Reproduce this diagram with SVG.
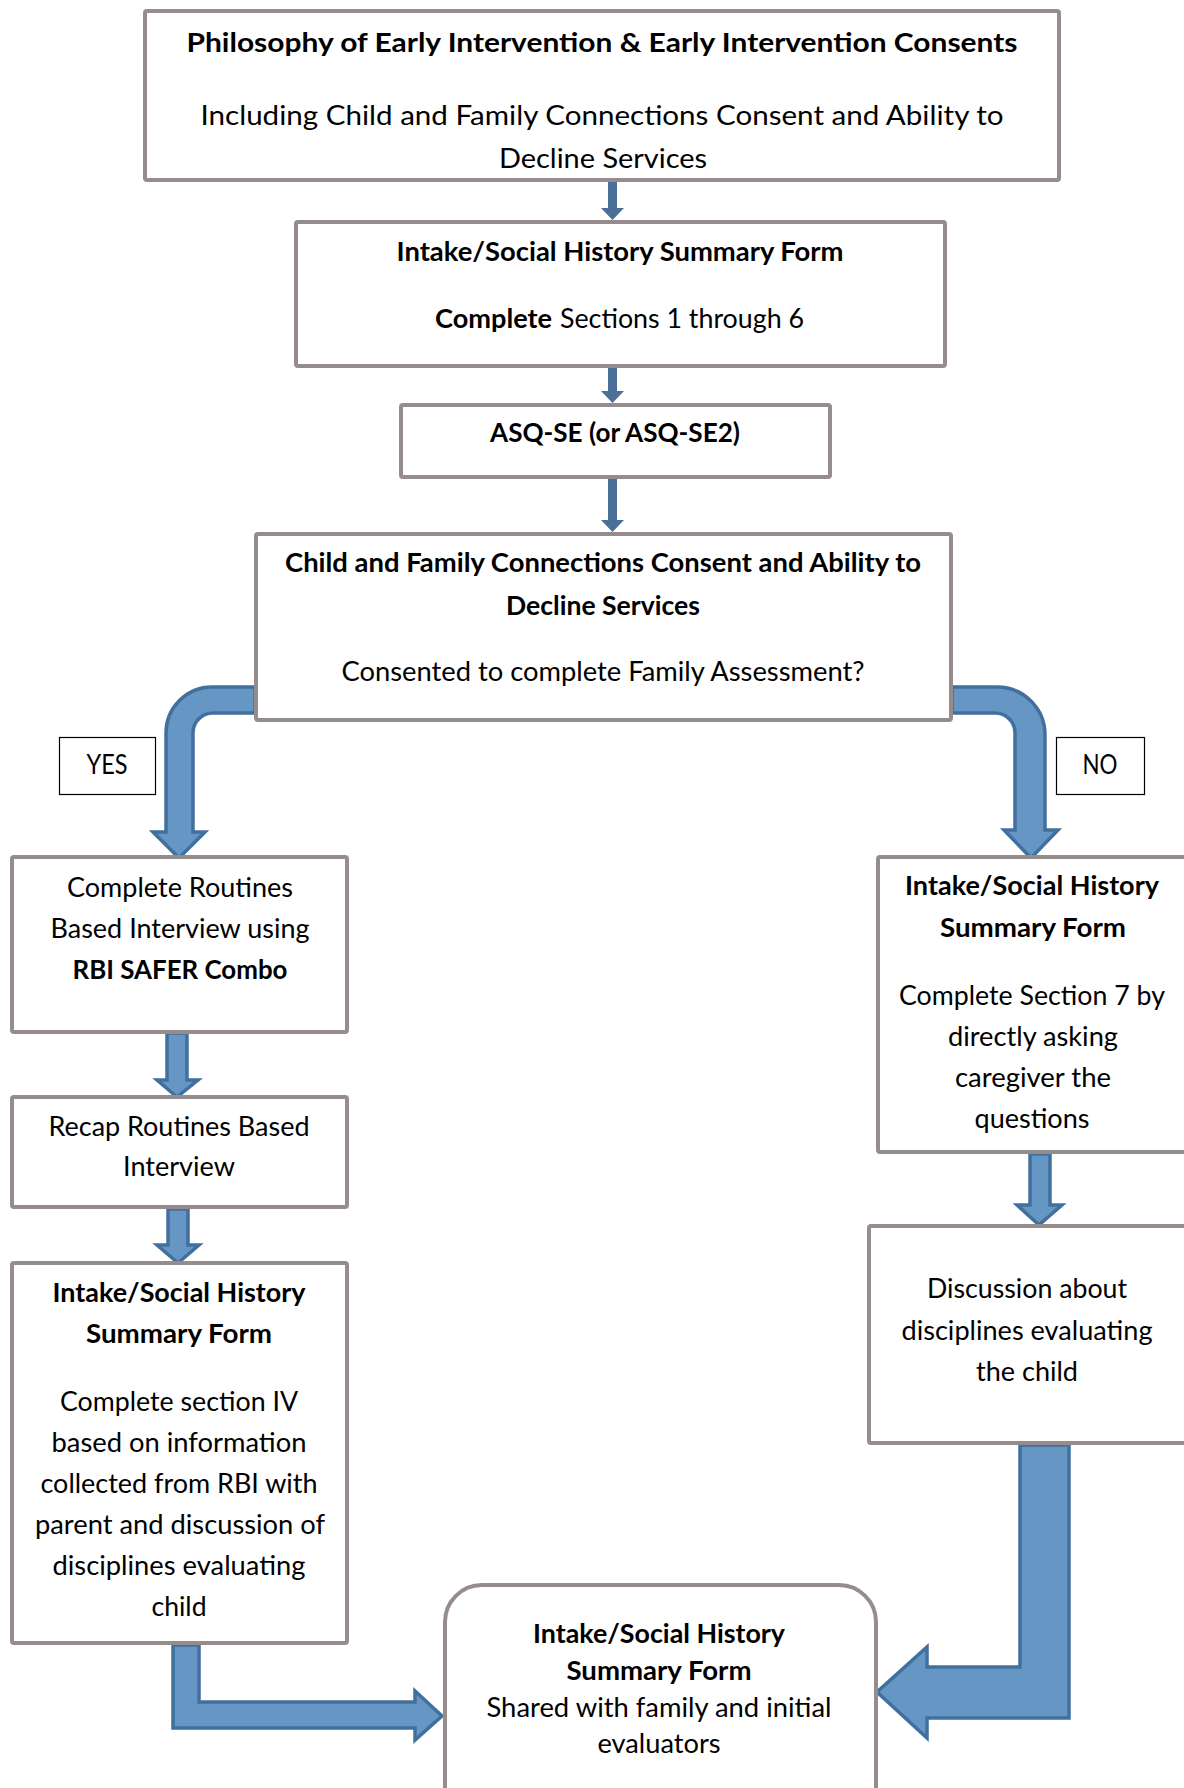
<svg xmlns="http://www.w3.org/2000/svg" width="1184" height="1788" viewBox="0 0 1184 1788">
<defs>
<style>
.box{fill:#ffffff;stroke:#968C8C;stroke-width:4;}
.lbl{fill:#ffffff;stroke:#000000;stroke-width:1.2;}
.t{font-family:Lato,"Liberation Sans",sans-serif;font-size:26px;fill:#000000;text-anchor:middle;}
.b{font-weight:bold;}
.s{text-anchor:start;}
.thin{fill:#4B6F96;stroke:none;}
.fat{fill:#6696C4;stroke:#41709F;stroke-width:3.5;stroke-linejoin:miter;}
</style>
</defs>
<rect x="0" y="0" width="1184" height="1788" fill="#ffffff"/>

<g id="connectors">
  <path class="thin" d="M608,180 H617 V208 H624 L612.5,220 L601,208 H608 Z"/>
  <path class="thin" d="M608,366 H617 V391 H624 L612.5,403 L601,391 H608 Z"/>
  <path class="thin" d="M608,477 H617 V520 H624 L612.5,532 L601,520 H608 Z"/>
  <path class="fat" d="M255,687 H212 A46,46 0 0 0 166,733 V832 H153 L179,858 L205,832 H193 V733 A20,20 0 0 1 213,713 H255 Z"/>
  <path class="fat" d="M952,687 H997 A48,48 0 0 1 1045,735 V830 H1058 L1031,858 L1004,830 H1015 V733 A20,20 0 0 0 995,713 H952 Z"/>
  <path class="fat" d="M167,1033 H187 V1080 H198 L177,1097 L157,1080 H167 Z"/>
  <path class="fat" d="M168,1209 H188 V1245 H199 L178,1263 L157,1245 H168 Z"/>
  <path class="fat" d="M1030,1154 H1050 V1205 H1062 L1039,1225 L1017,1205 H1030 Z"/>
  <path class="fat" d="M173,1645 H199 V1702 H415 V1691 L442,1716 L415,1740 V1728 H173 Z"/>
  <path class="fat" d="M1020,1445 H1069 V1718 H927 V1738 L877,1692 L927,1647 V1667 H1020 Z"/>
</g>

<g id="node-philosophy">
  <rect class="box" x="145" y="11" width="914" height="169" rx="2"/>
  <text class="t b" x="602" y="52" textLength="831" lengthAdjust="spacingAndGlyphs">Philosophy of Early Intervention &amp; Early Intervention Consents</text>
  <text class="t" x="602" y="125" textLength="803" lengthAdjust="spacingAndGlyphs">Including Child and Family Connections Consent and Ability to</text>
  <text class="t" x="603" y="168" textLength="208" lengthAdjust="spacingAndGlyphs">Decline Services</text>
</g>

<g id="node-intake1">
  <rect class="box" x="296" y="222" width="649" height="144" rx="2"/>
  <text class="t b" x="620" y="261" textLength="447" lengthAdjust="spacingAndGlyphs">Intake/Social History Summary Form</text>
  <text class="t b s" x="435" y="328" textLength="117" lengthAdjust="spacingAndGlyphs">Complete</text>
  <text class="t s" x="560" y="328" textLength="244" lengthAdjust="spacingAndGlyphs">Sections 1 through 6</text>
</g>

<g id="node-asq">
  <rect class="box" x="401" y="405" width="429" height="72" rx="2"/>
  <text class="t b" x="615" y="442" textLength="250" lengthAdjust="spacingAndGlyphs">ASQ-SE (or ASQ-SE2)</text>
</g>

<g id="node-consent">
  <rect class="box" x="256" y="534" width="695" height="186" rx="2"/>
  <text class="t b" x="603" y="572" textLength="636" lengthAdjust="spacingAndGlyphs">Child and Family Connections Consent and Ability to</text>
  <text class="t b" x="603" y="615" textLength="194" lengthAdjust="spacingAndGlyphs">Decline Services</text>
  <text class="t" x="603" y="681" textLength="523" lengthAdjust="spacingAndGlyphs">Consented to complete Family Assessment?</text>
</g>

<g id="label-yes">
  <rect class="lbl" x="59.5" y="737.5" width="96" height="57"/>
  <text class="t" x="107" y="774" textLength="41" lengthAdjust="spacingAndGlyphs">YES</text>
</g>

<g id="label-no">
  <rect class="lbl" x="1056.5" y="737.5" width="88" height="57"/>
  <text class="t" x="1100" y="774" textLength="35" lengthAdjust="spacingAndGlyphs">NO</text>
</g>

<g id="node-rbi">
  <rect class="box" x="12" y="857" width="335" height="175" rx="2"/>
  <text class="t" x="180" y="897" textLength="226" lengthAdjust="spacingAndGlyphs">Complete Routines</text>
  <text class="t" x="180" y="938" textLength="259" lengthAdjust="spacingAndGlyphs">Based Interview using</text>
  <text class="t b" x="180" y="979" textLength="215" lengthAdjust="spacingAndGlyphs">RBI SAFER Combo</text>
</g>

<g id="node-recap">
  <rect class="box" x="12" y="1097" width="335" height="110" rx="2"/>
  <text class="t" x="179" y="1136" textLength="261" lengthAdjust="spacingAndGlyphs">Recap Routines Based</text>
  <text class="t" x="179" y="1176" textLength="112" lengthAdjust="spacingAndGlyphs">Interview</text>
</g>

<g id="node-intake-yes">
  <rect class="box" x="12" y="1263" width="335" height="380" rx="2"/>
  <text class="t b" x="179" y="1302" textLength="253" lengthAdjust="spacingAndGlyphs">Intake/Social History</text>
  <text class="t b" x="179" y="1343" textLength="186" lengthAdjust="spacingAndGlyphs">Summary Form</text>
  <text class="t" x="179" y="1411" textLength="238" lengthAdjust="spacingAndGlyphs">Complete section IV</text>
  <text class="t" x="179" y="1452" textLength="255" lengthAdjust="spacingAndGlyphs">based on information</text>
  <text class="t" x="179" y="1493" textLength="277" lengthAdjust="spacingAndGlyphs">collected from RBI with</text>
  <text class="t" x="180" y="1534" textLength="290" lengthAdjust="spacingAndGlyphs">parent and discussion of</text>
  <text class="t" x="179" y="1575" textLength="253" lengthAdjust="spacingAndGlyphs">disciplines evaluating</text>
  <text class="t" x="179" y="1616" textLength="55" lengthAdjust="spacingAndGlyphs">child</text>
</g>

<g id="node-intake-no">
  <rect class="box" x="878" y="857" width="330" height="295" rx="2"/>
  <text class="t b" x="1032" y="895" textLength="254" lengthAdjust="spacingAndGlyphs">Intake/Social History</text>
  <text class="t b" x="1033" y="937" textLength="186" lengthAdjust="spacingAndGlyphs">Summary Form</text>
  <text class="t" x="1032" y="1005" textLength="266" lengthAdjust="spacingAndGlyphs">Complete Section 7 by</text>
  <text class="t" x="1033" y="1046" textLength="170" lengthAdjust="spacingAndGlyphs">directly asking</text>
  <text class="t" x="1033" y="1087" textLength="156" lengthAdjust="spacingAndGlyphs">caregiver the</text>
  <text class="t" x="1032" y="1128" textLength="115" lengthAdjust="spacingAndGlyphs">questions</text>
</g>

<g id="node-discussion">
  <rect class="box" x="869" y="1226" width="340" height="217" rx="2"/>
  <text class="t" x="1027" y="1298" textLength="200" lengthAdjust="spacingAndGlyphs">Discussion about</text>
  <text class="t" x="1027" y="1340" textLength="251" lengthAdjust="spacingAndGlyphs">disciplines evaluating</text>
  <text class="t" x="1027" y="1381" textLength="102" lengthAdjust="spacingAndGlyphs">the child</text>
</g>

<g id="node-shared">
  <rect class="box" x="445" y="1585" width="431" height="260" rx="37"/>
  <text class="t b" x="659" y="1643" textLength="252" lengthAdjust="spacingAndGlyphs">Intake/Social History</text>
  <text class="t b" x="659" y="1680" textLength="185" lengthAdjust="spacingAndGlyphs">Summary Form</text>
  <text class="t" x="659" y="1717" textLength="345" lengthAdjust="spacingAndGlyphs">Shared with family and initial</text>
  <text class="t" x="659" y="1753" textLength="123" lengthAdjust="spacingAndGlyphs">evaluators</text>
</g>
</svg>
